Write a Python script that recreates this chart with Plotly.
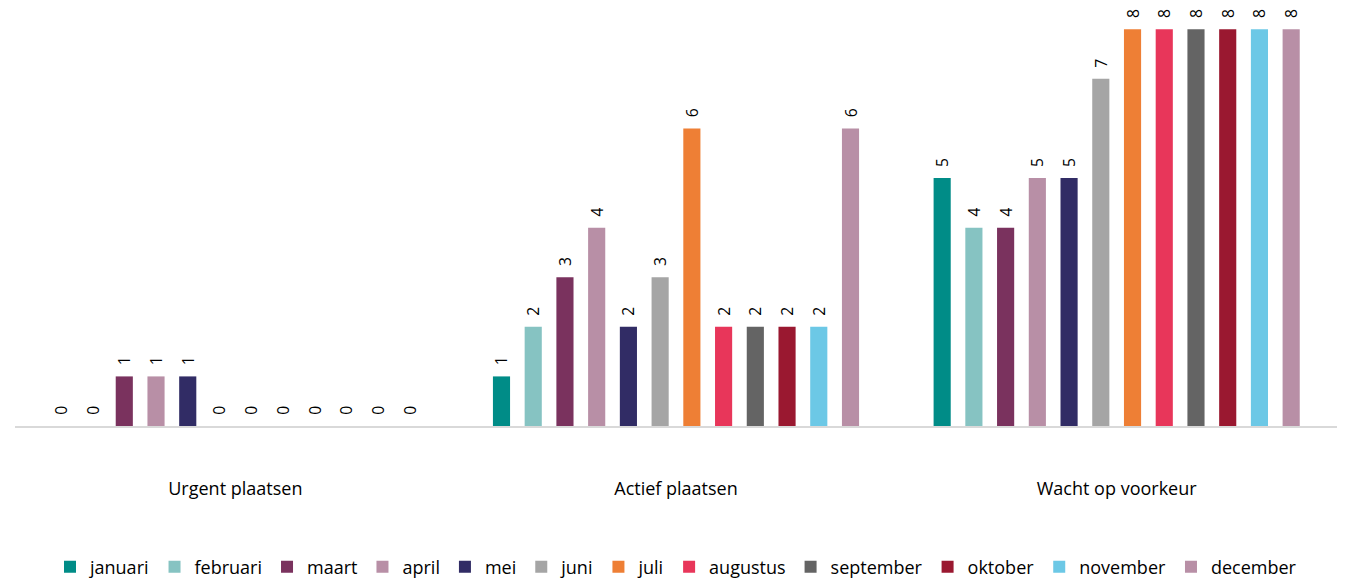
import plotly.graph_objects as go

# Categories on the x axis
categories = ["Urgent plaatsen", "Actief plaatsen", "Wacht op voorkeur"]

# Months (one bar series each)
months = ["januari", "februari", "maart", "april", "mei", "juni", "juli",
          "augustus", "september", "oktober", "november", "december"]

# Counts per category, listed per month
januari = [0, 1, 5]
februari = [0, 2, 4]
maart = [1, 3, 4]
april = [1, 4, 5]
mei = [1, 2, 5]
juni = [0, 3, 7]
juli = [0, 6, 8]
augustus = [0, 2, 8]
september = [0, 2, 8]
oktober = [0, 2, 8]
november = [0, 2, 8]
december = [0, 6, 8]

series = [januari, februari, maart, april, mei, juni, juli,
          augustus, september, oktober, november, december]

colors = ["#008C87", "#86C3C2", "#7A325E", "#B88FA6", "#312C65", "#A5A5A5",
          "#EE7F35", "#E8365A", "#646464", "#9A1830", "#6CC8E6", "#B88FA6"]

FONT = "Open Sans"

fig = go.Figure()
for name, vals, col in zip(months, series, colors):
    fig.add_trace(go.Bar(
        name=name,
        x=categories,
        y=vals,
        marker=dict(color=col, line=dict(width=0)),
        text=vals,
        texttemplate="\u00a0\u00a0%{y}",
        textposition="outside",
        textangle=-90,
        textfont=dict(family=FONT, size=17, color="#000000"),
        cliponaxis=False,
    ))

fig.update_layout(
    width=1348,
    height=579,
    barmode="group",
    bargap=0.136,
    bargroupgap=0.46,
    plot_bgcolor="white",
    paper_bgcolor="white",
    margin=dict(l=15, r=11, t=0, b=153, autoexpand=False),
    font=dict(family=FONT, size=18, color="#000000"),
    xaxis=dict(
        showline=True,
        linecolor="#D9D9D9",
        linewidth=2,
        ticks="outside",
        ticklen=45,
        tickcolor="rgba(0,0,0,0)",
        tickfont=dict(family=FONT, size=18, color="#000000"),
        showgrid=False,
        automargin=False,
    ),
    yaxis=dict(
        range=[0, 8.59],
        visible=False,
        showgrid=False,
        zeroline=False,
    ),
    legend=dict(
        orientation="h",
        x=0.5,
        xanchor="center",
        y=-0.331,
        yanchor="middle",
        font=dict(family=FONT, size=18, color="#000000"),
        itemwidth=30,
        traceorder="normal",
    ),
)

fig.write_html("out.html")
